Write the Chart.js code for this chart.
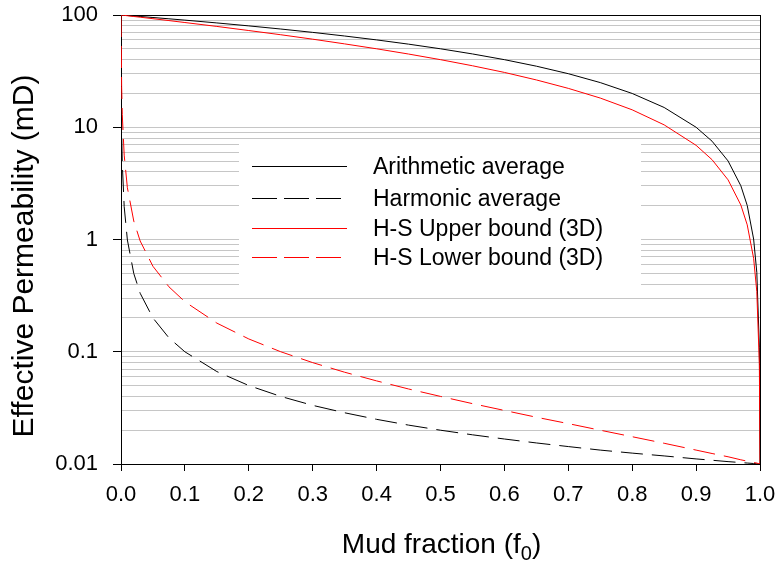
<!DOCTYPE html>
<html>
<head>
<meta charset="utf-8">
<script src="https://cdn.jsdelivr.net/npm/chart.js@4.4.1/dist/chart.umd.min.js"></script>
<style>
  body { margin: 0; background: #fff; }
</style>
</head>
<body>
<canvas id="permChart" width="779" height="563"></canvas>
<script>
const mudFraction = [0, 0.001, 0.002, 0.005, 0.01, 0.02, 0.03, 0.05, 0.075, 0.1, 0.15, 0.2, 0.25, 0.3, 0.35, 0.4, 0.45, 0.5,
    0.55, 0.6, 0.65, 0.7, 0.75, 0.8, 0.85, 0.9, 0.925, 0.95, 0.97, 0.98, 0.99, 0.995, 0.999, 1.0]

const arithmetic = [100, 99.9, 99.8, 99.5, 99.0, 98.0, 97.0, 95.0, 92.5, 90.0, 85.0, 80.0, 75.0, 70.0, 65.0, 60.0, 55.0, 50.0,
    45.0, 40.0, 35.0, 30.0, 25.0, 20.0, 15.0, 10.0, 7.51, 5.01, 3.01, 2.01, 1.01, 0.51, 0.11, 0.01]

const harmonic = [100, 9.09, 4.76, 1.96, 0.99, 0.498, 0.332, 0.2, 0.133, 0.0999, 0.0666, 0.05, 0.04, 0.0333, 0.0286, 0.025, 0.0222, 0.02,
    0.0182, 0.0167, 0.0154, 0.0143, 0.0133, 0.0125, 0.0118, 0.0111, 0.0108, 0.0105, 0.0103, 0.0102, 0.0101, 0.01005, 0.01001, 0.01]

const hsUpper = [100, 99.85, 99.7, 99.25, 98.5, 97.0, 95.6, 92.7, 89.2, 85.7, 79.1, 72.7, 66.7, 60.9, 55.3, 50.0, 44.9, 40.0,
    35.3, 30.8, 26.4, 22.2, 18.2, 14.3, 10.5, 6.9, 5.14, 3.4, 2.03, 1.35, 0.68, 0.344, 0.077, 0.01]

const hsLower = [100, 23.1, 13.0, 5.64, 2.89, 1.46, 0.97, 0.577, 0.379, 0.279, 0.18, 0.13, 0.1, 0.08, 0.0657, 0.055, 0.0466, 0.04,
    0.0345, 0.03, 0.0261, 0.0229, 0.02, 0.0175, 0.0153, 0.0133, 0.0124, 0.0116, 0.0109, 0.0106, 0.0103, 0.0102, 0.01, 0.01]

const yMajorTicks = [0.01, 0.1, 1, 10, 100]
const yTickLabels = ['0.01', '0.1', '1', '10', '100']
const xTicks = [0, 0.1, 0.2, 0.3, 0.4, 0.5, 0.6, 0.7, 0.8, 0.9, 1.0]

const seriesLabels = ['Arithmetic average', 'Harmonic average', 'H-S Upper bound (3D)', 'H-S Lower bound (3D)']

const FONT = 'Liberation Sans, Arial, sans-serif'

// grid lines at every 1..9 step inside each decade
const yGridValues = []
for (let i = 0; i < yMajorTicks.length - 1; i++) {
    for (let m = 1; m < 10; m++) yGridValues.push(m * yMajorTicks[i])
}
yGridValues.push(yMajorTicks[yMajorTicks.length - 1])

const toPoints = (vals) => mudFraction.map((f, i) => ({ x: f, y: vals[i] }))

const lineStyles = [
    { color: '#000000', dash: [] },
    { color: '#000000', dash: [22, 9] },
    { color: '#ff0000', dash: [] },
    { color: '#ff0000', dash: [22, 9] },
]

const legendBox = {
    id: 'legendBox',
    beforeDatasetsDraw(chart) {
        const ctx = chart.ctx
        const area = chart.chartArea
        ctx.save()
        ctx.fillStyle = '#ffffff'
        ctx.fillRect(239, 140, 402, 157)

        const rows = [166.5, 198.5, 228.5, 257.5]
        ctx.font = '23px ' + FONT
        ctx.textBaseline = 'middle'
        ctx.textAlign = 'left'
        rows.forEach((y, i) => {
            ctx.beginPath()
            ctx.strokeStyle = lineStyles[i].color
            ctx.lineWidth = 1
            ctx.setLineDash(lineStyles[i].dash.length ? [25, 7] : [])
            ctx.moveTo(252, y)
            ctx.lineTo(347, y)
            ctx.stroke()
            ctx.fillStyle = '#000'
            ctx.fillText(seriesLabels[i], 373, y + 1)
        })
        ctx.setLineDash([])

        // right side of the frame
        ctx.beginPath()
        ctx.strokeStyle = '#000'
        ctx.lineWidth = 1
        ctx.moveTo(Math.round(area.right) + 0.5, area.top)
        ctx.lineTo(Math.round(area.right) + 0.5, area.bottom)
        ctx.stroke()
        ctx.restore()
    },
    afterDraw(chart) {
        const ctx = chart.ctx
        ctx.save()
        ctx.fillStyle = '#000'

        // y title
        ctx.font = '30px ' + FONT
        ctx.textAlign = 'center'
        ctx.textBaseline = 'alphabetic'
        ctx.translate(33, 256)
        ctx.rotate(-Math.PI / 2)
        ctx.fillText('Effective Permeability (mD)', 0, 0)
        ctx.setTransform(1, 0, 0, 1, 0, 0)

        // x title with subscript
        const main = 'Mud fraction (f'
        ctx.font = '28px ' + FONT
        const w1 = ctx.measureText(main).width
        const w3 = ctx.measureText(')').width
        ctx.font = '20px ' + FONT
        const w2 = ctx.measureText('0').width
        const cx = (chart.chartArea.left + chart.chartArea.right) / 2 + 1
        let x = cx - (w1 + w2 + w3) / 2
        ctx.textAlign = 'left'
        ctx.font = '28px ' + FONT
        ctx.fillText(main, x, 553)
        x += w1
        ctx.font = '20px ' + FONT
        ctx.fillText('0', x, 560)
        x += w2
        ctx.font = '28px ' + FONT
        ctx.fillText(')', x, 553)
        ctx.restore()
    }
}

const ctx = document.getElementById('permChart').getContext('2d')

new Chart(ctx, {
    type: 'line',
    data: {
        datasets: [arithmetic, harmonic, hsUpper, hsLower].map((vals, i) => ({
            label: seriesLabels[i],
            data: toPoints(vals),
            borderColor: lineStyles[i].color,
            borderDash: lineStyles[i].dash,
            borderWidth: 1,
            pointRadius: 0,
            tension: 0,
            fill: false,
            order: i < 2 ? 2 : 1,
        }))
    },
    options: {
        responsive: false,
        animation: false,
        layout: { padding: 0 },
        plugins: {
            legend: { display: false },
            tooltip: { enabled: false },
        },
        scales: {
            x: {
                type: 'linear',
                min: 0,
                max: 1,
                afterBuildTicks: (s) => { s.ticks = xTicks.map(v => ({ value: v })) },
                afterFit: (s) => {
                    s.height = 99
                    s.paddingLeft = 0
                    s.paddingRight = 19
                },
                ticks: {
                    callback: (v) => v.toFixed(1),
                    color: '#000',
                    padding: 11,
                    maxRotation: 0,
                    autoSkip: false,
                    font: { family: FONT, size: 22 },
                },
                grid: {
                    drawOnChartArea: false,
                    drawTicks: true,
                    tickLength: 7,
                    tickColor: '#000',
                },
                border: { color: '#000', width: 1 },
            },
            y: {
                type: 'logarithmic',
                min: 0.01,
                max: 100,
                afterBuildTicks: (s) => { s.ticks = yGridValues.map(v => ({ value: v })) },
                afterFit: (s) => {
                    s.width = 121
                    s.paddingTop = 15
                    s.paddingBottom = 0
                },
                ticks: {
                    callback: (v) => {
                        const idx = yMajorTicks.indexOf(v)
                        return idx >= 0 ? yTickLabels[idx] : ''
                    },
                    color: '#000',
                    padding: 15,
                    autoSkip: false,
                    font: { family: FONT, size: 22 },
                },
                grid: {
                    color: (c) => (c.tick && c.tick.value === 100) ? '#000' : '#c6c6c6',
                    tickColor: (c) => (c.tick && yMajorTicks.includes(c.tick.value)) ? '#000' : 'rgba(0,0,0,0)',
                    tickLength: 8,
                    lineWidth: 1,
                },
                border: { color: '#000', width: 1 },
            }
        }
    },
    plugins: [legendBox]
});
</script>
</body>
</html>
